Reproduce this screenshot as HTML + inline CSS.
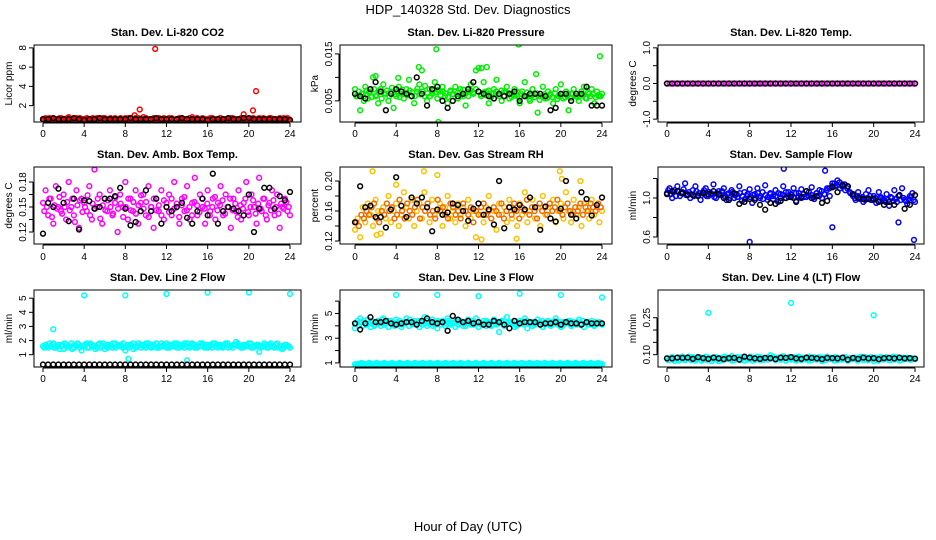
<!DOCTYPE html>
<html><head><meta charset="utf-8">
<style>
html,body{margin:0;padding:0;background:#fff;}
svg{display:block;font-family:"Liberation Sans",sans-serif;}
</style></head>
<body>
<svg id="chart" width="936" height="540" viewBox="0 0 936 540" xmlns="http://www.w3.org/2000/svg">
<text x="468" y="14" text-anchor="middle" font-size="13">HDP_140328  Std. Dev. Diagnostics</text>
<text x="468" y="531" text-anchor="middle" font-size="13">Hour of Day (UTC)</text>
</svg>
<script>
const xTicks=[0,4,8,12,16,20,24];
// Panel 1: CO2
const co2Red=[0.6,0.7,0.5,0.6,0.7,0.6,0.5,0.7,0.6,0.6,0.8,0.5,0.6,0.7,0.6,0.5,0.6,0.7,0.6,0.6,0.5,0.7,0.6,0.6,0.7,0.5,0.6,0.6,0.7,0.6,0.5,0.6,0.7,0.6,0.6,0.5,0.7,0.6,0.6,0.8,0.6,0.5,0.6,0.7,0.6,0.6,0.5,0.7,0.6,0.6,0.7,0.5,0.6,0.6,0.7,0.6,0.5,0.6,0.8,0.6,0.6,0.5,0.7,0.6,0.6,0.7,0.5,0.6,0.6,0.7,0.6,0.5,0.6,0.7,0.6,0.6,0.5,0.7,0.6,0.6,0.7,0.5,0.6,0.6,0.7,0.6,0.5,0.6,0.7,0.6,0.6,0.5,0.7,0.6,0.6,0.7,0.5];
const co2Red2=[0.5,0.6,0.7,0.5,0.6,0.5,0.7,0.6,0.5,0.7,0.6,0.6,0.5,0.6,0.7,0.6,0.5,0.6,0.5,0.7,0.6,0.5,0.6,0.7,0.5,0.6,0.7,0.5,0.6,0.5,0.7,0.6,0.5,0.7,0.6,0.6,0.5,0.7,0.5,0.6,0.7,0.6,0.5,0.6,0.5,0.7,0.6,0.6,0.5,0.7,0.6,0.5,0.6,0.7,0.5,0.6,0.6,0.7,0.5,0.6,0.7,0.6,0.5,0.6,0.5,0.6,0.7,0.5,0.6,0.7,0.5,0.6,0.6,0.5,0.7,0.6,0.5,0.6,0.7,0.5,0.6,0.6,0.7,0.5,0.6,0.5,0.7,0.6,0.5,0.7,0.6,0.6,0.5,0.6,0.7,0.5,0.6];
const co2OutHours=[8.9,9.4,10.9,19.5,20.4,20.7];
const co2OutVals=[1.0,1.6,7.9,1.1,1.5,3.5];
const co2Black=[0.6,0.6,0.7,0.6,0.6,0.6,0.7,0.6,0.5,0.6,0.6,0.7,0.6,0.6,0.6,0.6,0.6,0.7,0.6,0.6,0.6,0.6,0.7,0.6,0.6,0.6,0.6,0.7,0.6,0.6,0.6,0.6,0.5,0.6,0.6,0.6,0.7,0.6,0.6,0.7,0.7,0.6,0.6,0.6,0.6,0.6,0.6,0.6,0.5];
// Panel 2: Pressure
const presGreen=[0.0075,0.0060,0.0030,0.0065,0.0080,0.0055,0.0070,0.0100,0.0060,0.0045,0.0075,0.0085,0.0065,0.0050,0.0070,0.0035,0.0060,0.0080,0.0065,0.0055,0.0075,0.0095,0.0060,0.0045,0.0070,0.0085,0.0115,0.0060,0.0050,0.0075,0.0065,0.0090,0.0055,0.0070,0.0080,0.0060,0.0045,0.0070,0.0065,0.0080,0.0055,0.0075,0.0060,0.0040,0.0070,0.0085,0.0065,0.0115,0.0120,0.0060,0.0090,0.0070,0.0045,0.0065,0.0075,0.0095,0.0060,0.0050,0.0070,0.0080,0.0055,0.0065,0.0075,0.0060,0.0045,0.0070,0.0090,0.0060,0.0050,0.0075,0.0065,0.0025,0.0060,0.0080,0.0055,0.0070,0.0065,0.0045,0.0075,0.0060,0.0085,0.0055,0.0070,0.0030,0.0065,0.0075,0.0060,0.0050,0.0070,0.0080,0.0055,0.0065,0.0075,0.0045,0.0070,0.0060,0.0065];
const presGreen2=[0.0060,0.0070,0.0065,0.0050,0.0072,0.0068,0.0058,0.0075,0.0062,0.0070,0.0055,0.0066,0.0072,0.0060,0.0078,0.0064,0.0070,0.0058,0.0074,0.0066,0.0062,0.0072,0.0068,0.0060,0.0076,0.0064,0.0070,0.0082,0.0066,0.0060,0.0072,0.0068,0.0074,0.0062,0.0070,0.0066,0.0058,0.0072,0.0064,0.0070,0.0068,0.0062,0.0074,0.0066,0.0060,0.0072,0.0068,0.0075,0.0070,0.0064,0.0068,0.0062,0.0072,0.0058,0.0066,0.0070,0.0064,0.0072,0.0060,0.0068,0.0066,0.0058,0.0062,0.0070,0.0056,0.0064,0.0060,0.0068,0.0054,0.0062,0.0058,0.0066,0.0052,0.0060,0.0064,0.0056,0.0062,0.0058,0.0066,0.0054,0.0060,0.0064,0.0058,0.0062,0.0056,0.0066,0.0060,0.0058,0.0064,0.0062,0.0056,0.0068,0.0060,0.0064,0.0058,0.0062,0.0060];
const presOutHours=[2.0,4.2,6.2,7.9,8.1,12.3,12.8,15.9,17.6,23.8];
const presOutVals=[0.0103,0.0099,0.0122,0.0160,0.0005,0.0120,0.0122,0.0170,0.0107,0.0145];
const presBlack=[0.0065,0.0060,0.0055,0.0075,0.0090,0.0070,0.0030,0.0065,0.0075,0.0070,0.0065,0.0060,0.0100,0.0065,0.0040,0.0075,0.0080,0.0050,0.0035,0.0050,0.0060,0.0065,0.0075,0.0090,0.0070,0.0065,0.0060,0.0055,0.0065,0.0060,0.0065,0.0070,0.0050,0.0060,0.0065,0.0065,0.0065,0.0060,0.0030,0.0035,0.0065,0.0065,0.0050,0.0065,0.0065,0.0080,0.0040,0.0040,0.0040];
// Panel 3: Li-820 Temp
const tempMag=[0,0,0,0,0,0,0,0,0,0,0,0,0,0,0,0,0,0,0,0,0,0,0,0,0,0,0,0,0,0,0,0,0,0,0,0,0,0,0,0,0,0,0,0,0,0,0,0,0,0,0,0,0,0,0,0,0,0,0,0,0,0,0,0,0,0,0,0,0,0,0,0,0,0,0,0,0,0,0,0,0,0,0,0,0,0,0,0,0,0,0,0,0,0,0,0,0];
const tempBlack=[0,0,0,0,0,0,0,0,0,0,0,0,0,0,0,0,0,0,0,0,0,0,0,0,0,0,0,0,0,0,0,0,0,0,0,0,0,0,0,0,0,0,0,0,0,0,0,0,0];
// Panel 4: Amb. Box Temp
const ambMag=[0.155,0.170,0.140,0.160,0.130,0.175,0.150,0.145,0.165,0.135,0.180,0.150,0.140,0.170,0.125,0.160,0.155,0.145,0.175,0.135,0.195,0.150,0.165,0.130,0.160,0.145,0.170,0.140,0.155,0.120,0.165,0.150,0.180,0.135,0.160,0.145,0.170,0.130,0.155,0.165,0.140,0.175,0.150,0.125,0.160,0.145,0.170,0.135,0.155,0.165,0.140,0.180,0.150,0.130,0.160,0.145,0.175,0.135,0.155,0.185,0.140,0.165,0.150,0.130,0.170,0.145,0.160,0.135,0.155,0.175,0.140,0.165,0.150,0.125,0.160,0.145,0.170,0.135,0.155,0.180,0.140,0.165,0.150,0.130,0.185,0.145,0.160,0.135,0.155,0.170,0.140,0.165,0.125,0.150,0.160,0.145,0.140];
const ambMag2=[0.145,0.150,0.160,0.138,0.152,0.148,0.162,0.142,0.150,0.156,0.146,0.160,0.132,0.152,0.158,0.144,0.150,0.164,0.140,0.154,0.148,0.160,0.136,0.152,0.146,0.158,0.150,0.142,0.162,0.148,0.154,0.138,0.150,0.160,0.146,0.156,0.142,0.152,0.164,0.148,0.156,0.138,0.150,0.160,0.146,0.152,0.140,0.158,0.150,0.144,0.160,0.148,0.154,0.138,0.152,0.162,0.146,0.150,0.140,0.156,0.152,0.144,0.160,0.148,0.154,0.140,0.150,0.162,0.146,0.152,0.158,0.142,0.150,0.160,0.146,0.154,0.138,0.152,0.148,0.160,0.144,0.150,0.158,0.142,0.154,0.148,0.160,0.140,0.152,0.146,0.158,0.150,0.142,0.154,0.148,0.156,0.150];
const ambBlack=[0.118,0.155,0.150,0.172,0.155,0.133,0.160,0.123,0.158,0.157,0.148,0.150,0.160,0.160,0.163,0.173,0.148,0.128,0.132,0.145,0.170,0.145,0.160,0.130,0.150,0.145,0.150,0.155,0.137,0.130,0.145,0.160,0.140,0.190,0.130,0.145,0.150,0.148,0.145,0.140,0.165,0.120,0.148,0.173,0.173,0.148,0.163,0.158,0.168];
// Panel 5: Gas Stream RH
const rhOrange=[0.135,0.150,0.125,0.165,0.145,0.170,0.155,0.140,0.175,0.160,0.130,0.165,0.150,0.180,0.145,0.160,0.170,0.140,0.155,0.185,0.165,0.150,0.175,0.140,0.160,0.170,0.150,0.185,0.165,0.145,0.175,0.155,0.160,0.170,0.140,0.165,0.180,0.150,0.160,0.145,0.170,0.155,0.165,0.140,0.175,0.150,0.160,0.125,0.170,0.155,0.145,0.165,0.180,0.150,0.160,0.135,0.170,0.155,0.165,0.145,0.175,0.150,0.160,0.140,0.170,0.155,0.185,0.145,0.160,0.175,0.150,0.165,0.140,0.180,0.155,0.165,0.150,0.175,0.145,0.160,0.170,0.150,0.185,0.160,0.145,0.175,0.155,0.165,0.140,0.170,0.160,0.150,0.175,0.155,0.165,0.145,0.160];
const rhOrange2=[0.145,0.140,0.155,0.150,0.160,0.155,0.165,0.170,0.150,0.145,0.160,0.155,0.170,0.160,0.165,0.150,0.155,0.175,0.160,0.150,0.170,0.160,0.155,0.165,0.175,0.150,0.165,0.160,0.170,0.155,0.160,0.150,0.175,0.160,0.165,0.155,0.150,0.170,0.165,0.155,0.160,0.150,0.170,0.160,0.155,0.165,0.145,0.160,0.155,0.165,0.170,0.155,0.160,0.150,0.165,0.160,0.155,0.170,0.150,0.160,0.165,0.155,0.170,0.160,0.150,0.165,0.160,0.175,0.155,0.165,0.160,0.150,0.170,0.160,0.165,0.155,0.170,0.160,0.165,0.175,0.160,0.155,0.165,0.170,0.160,0.155,0.165,0.160,0.170,0.155,0.165,0.160,0.170,0.165,0.160,0.170,0.165];
const rhOutHours=[1.7,2.1,4.0,6.7,8.0,12.3,15.7,19.9,20.1,21.9];
const rhOutVals=[0.213,0.128,0.195,0.213,0.208,0.122,0.123,0.213,0.203,0.200];
const rhBlack=[0.145,0.193,0.165,0.167,0.152,0.152,0.138,0.162,0.205,0.167,0.152,0.178,0.170,0.178,0.165,0.133,0.162,0.155,0.158,0.170,0.168,0.160,0.147,0.163,0.170,0.155,0.162,0.142,0.200,0.137,0.165,0.162,0.168,0.162,0.178,0.165,0.135,0.166,0.150,0.146,0.163,0.200,0.155,0.150,0.185,0.176,0.154,0.168,0.178];
// Panel 6: Sample Flow
const flowBlue=[1.05,1.10,1.00,1.08,1.12,1.02,1.06,1.15,1.04,1.00,1.08,1.12,1.03,0.98,1.06,1.10,1.02,1.05,1.14,1.00,1.07,1.03,1.10,0.98,1.05,1.08,1.00,1.04,1.12,0.97,1.06,1.02,1.09,0.95,1.04,1.10,1.00,1.06,1.13,0.98,1.05,1.02,1.08,0.96,1.04,1.12,1.00,1.06,1.03,1.10,0.97,1.05,1.09,1.01,1.07,1.02,1.11,0.99,1.05,1.08,1.00,1.04,1.10,1.02,1.15,1.12,1.18,1.10,1.14,1.08,1.12,1.05,1.02,0.98,1.06,1.00,0.96,1.04,1.08,0.98,1.02,0.95,1.06,1.00,0.97,1.04,0.92,1.00,1.08,0.96,1.03,1.10,0.98,0.94,1.02,1.05,0.96];
const flowBlue2=[1.08,1.04,1.06,1.02,1.07,1.05,1.09,1.03,1.06,1.04,1.02,1.07,1.05,1.03,1.08,1.02,1.06,1.04,1.01,1.05,1.03,1.07,1.02,1.04,1.00,1.06,1.03,1.01,1.05,1.02,0.99,1.04,1.01,1.03,1.00,1.05,1.02,0.99,1.03,1.01,1.04,0.99,1.02,1.05,1.00,1.03,1.06,1.01,1.04,1.00,1.05,1.02,1.00,1.04,1.01,1.06,1.03,1.01,1.05,1.02,1.07,1.04,1.08,1.10,1.12,1.15,1.13,1.16,1.12,1.14,1.10,1.06,1.04,1.00,1.02,0.99,1.01,0.98,1.00,1.02,0.98,1.00,0.97,1.01,0.99,0.96,0.98,1.01,0.97,0.99,1.02,0.98,1.00,0.97,0.99,1.01,0.98];
const flowOutHours=[8.0,11.3,15.3,16.0,22.4,23.9];
const flowOutVals=[0.55,1.30,1.28,0.70,0.75,0.57];
const flowBlack=[1.04,1.07,1.07,1.05,1.03,1.03,1.02,1.05,1.04,1.07,1.04,1.00,0.98,1.05,0.94,0.96,0.99,0.98,0.93,0.88,0.95,0.94,0.97,1.00,1.01,0.96,1.01,1.07,1.00,1.02,0.95,0.97,1.11,1.06,1.13,1.12,1.04,1.00,0.99,0.99,0.99,0.96,0.93,0.96,0.93,1.03,0.89,0.93,1.03];
// Panel 7: Line 2 Flow
const l2Cyan=[1.6,1.7,1.5,1.6,1.8,1.5,1.7,1.6,1.4,1.7,1.6,1.8,1.5,1.6,1.7,1.3,1.6,1.8,1.5,1.7,1.6,1.5,1.8,1.6,1.4,1.7,1.6,1.5,1.8,1.7,1.6,1.5,1.3,1.7,1.6,1.8,1.5,1.6,1.7,1.6,1.5,1.8,1.6,1.7,1.5,1.6,1.8,1.6,1.5,1.7,1.6,1.8,1.5,1.7,1.6,1.5,1.8,1.6,1.7,1.5,1.6,1.8,1.7,1.6,1.5,1.7,1.8,1.6,1.5,1.7,1.6,1.8,1.5,1.6,1.7,1.9,1.6,1.5,1.7,1.6,1.8,1.5,1.6,1.7,1.2,1.6,1.8,1.5,1.7,1.6,1.5,1.8,1.6,1.4,1.7,1.6,1.5];
const l2Cyan2=[1.5,1.6,1.8,1.7,1.5,1.6,1.4,1.7,1.8,1.5,1.6,1.4,1.7,1.8,1.5,1.6,1.7,1.5,1.8,1.6,1.4,1.7,1.5,1.8,1.6,1.5,1.7,1.8,1.5,1.6,1.7,1.8,1.6,1.5,1.7,1.4,1.6,1.8,1.5,1.7,1.8,1.6,1.5,1.7,1.8,1.5,1.6,1.7,1.8,1.5,1.7,1.6,1.8,1.5,1.7,1.8,1.6,1.5,1.8,1.7,1.5,1.6,1.8,1.5,1.7,1.6,1.5,1.8,1.7,1.6,1.5,1.7,1.8,1.6,1.5,1.7,1.8,1.6,1.5,1.7,1.6,1.8,1.5,1.6,1.7,1.5,1.6,1.7,1.5,1.8,1.6,1.7,1.5,1.6,1.5,1.7,1.6];
const l2OutHours=[1.0,4.0,8.0,8.3,12.0,14.0,16.0,20.0,24.0];
const l2OutVals=[2.8,5.2,5.2,0.7,5.3,0.6,5.4,5.4,5.3];
const l2Black=[0.3,0.3,0.3,0.3,0.3,0.3,0.3,0.3,0.3,0.3,0.3,0.3,0.3,0.3,0.3,0.3,0.3,0.3,0.3,0.3,0.3,0.3,0.3,0.3,0.3,0.3,0.3,0.3,0.3,0.3,0.3,0.3,0.3,0.3,0.3,0.3,0.3,0.3,0.3,0.3,0.3,0.3,0.3,0.3,0.3,0.3,0.3,0.3,0.3];
// Panel 8: Line 3 Flow
const l3CyanHigh=[3.8,4.4,4.6,4.0,4.2,4.5,3.9,4.3,4.1,4.4,4.0,4.6,4.2,3.9,4.4,4.1,4.5,4.2,3.9,4.3,4.6,4.0,4.2,4.4,4.1,3.9,4.3,4.7,4.0,4.2,4.5,4.1,3.8,4.3,4.4,4.0,4.6,4.2,4.3,3.9,4.1,4.4,4.2,4.0,4.5,4.3,4.1,4.6,3.9,4.2,4.4,4.0,4.3,4.1,4.5,4.2,3.5,4.4,4.0,4.7,4.2,4.3,3.9,4.1,4.4,4.2,4.6,3.8,4.3,4.0,4.2,4.5,4.1,3.9,4.3,4.4,4.0,4.2,4.6,4.1,3.9,4.3,4.2,4.4,4.0,4.3,4.1,4.5,4.2,3.9,4.3,4.1,4.4,4.0,4.2,4.3,4.1];
const l3CyanHigh2=[4.2,4.0,4.3,4.4,4.1,4.2,4.4,4.0,4.3,4.2,4.5,4.1,4.3,4.4,4.2,4.0,4.3,4.4,4.1,4.2,4.3,4.5,4.1,4.2,4.4,4.3,4.1,4.2,4.4,4.3,4.0,4.2,4.4,4.1,4.3,4.2,4.4,4.1,4.2,4.3,4.4,4.2,4.0,4.3,4.2,4.1,4.4,4.2,4.3,4.1,4.2,4.4,4.2,4.0,4.3,4.1,4.2,4.3,4.4,4.1,4.3,4.2,4.4,4.0,4.2,4.3,4.1,4.4,4.2,4.3,4.1,4.2,4.3,4.4,4.1,4.2,4.3,4.1,4.4,4.2,4.3,4.0,4.2,4.3,4.4,4.1,4.2,4.3,4.1,4.4,4.2,4.3,4.2,4.1,4.3,4.2,4.2];
const l3CyanLow=[0.9,0.9,0.9,0.9,0.9,0.9,0.9,0.9,0.9,0.9,0.9,0.9,0.9,0.9,0.9,0.9,0.9,0.9,0.9,0.9,0.9,0.9,0.9,0.9,0.9,0.9,0.9,0.9,0.9,0.9,0.9,0.9,0.9,0.9,0.9,0.9,0.9,0.9,0.9,0.9,0.9,0.9,0.9,0.9,0.9,0.9,0.9,0.9,0.9,0.9,0.9,0.9,0.9,0.9,0.9,0.9,0.9,0.9,0.9,0.9,0.9,0.9,0.9,0.9,0.9,0.9,0.9,0.9,0.9,0.9,0.9,0.9,0.9,0.9,0.9,0.9,0.9,0.9,0.9,0.9,0.9,0.9,0.9,0.9,0.9,0.9,0.9,0.9,0.9,0.9,0.9,0.9,0.9,0.9,0.9,0.9,0.9];
const l3CyanLow2=[0.8,0.9,1.0,0.8,0.9,1.0,0.8,0.9,1.0,0.8,0.9,1.0,0.8,0.9,1.0,0.8,0.9,1.0,0.8,0.9,1.0,0.8,0.9,1.0,0.8,0.9,1.0,0.8,0.9,1.0,0.8,0.9,1.0,0.8,0.9,1.0,0.8,0.9,1.0,0.8,0.9,1.0,0.8,0.9,1.0,0.8,0.9,1.0,0.8,0.9,1.0,0.8,0.9,1.0,0.8,0.9,1.0,0.8,0.9,1.0,0.8,0.9,1.0,0.8,0.9,1.0,0.8,0.9,1.0,0.8,0.9,1.0,0.8,0.9,1.0,0.8,0.9,1.0,0.8,0.9,1.0,0.8,0.9,1.0,0.8,0.9,1.0,0.8,0.9,1.0,0.8,0.9,1.0,0.8,0.9,1.0,0.9];
const l3OutHours=[4.0,8.0,12.0,16.0,20.0,24.0];
const l3OutVals=[6.5,6.5,6.4,6.6,6.5,6.3];
const l3Black=[4.2,3.7,4.2,4.7,4.3,4.3,4.4,4.2,4.1,4.2,4.3,4.3,4.1,4.4,4.6,4.3,4.2,4.3,3.6,4.8,4.5,4.3,4.4,4.2,4.3,4.1,4.1,4.4,4.3,4.1,3.8,4.4,4.2,4.3,4.3,4.3,4.1,4.2,4.2,4.3,4.1,4.3,4.2,4.2,4.1,4.3,4.2,4.2,4.2];
// Panel 9: Line 4 (LT) Flow
const l4Cyan=[0.085,0.080,0.090,0.075,0.088,0.082,0.092,0.078,0.086,0.080,0.090,0.076,0.084,0.088,0.080,0.092,0.078,0.085,0.082,0.090,0.074,0.086,0.080,0.088,0.082,0.094,0.078,0.085,0.080,0.090,0.076,0.086,0.082,0.088,0.080,0.092,0.078,0.085,0.082,0.090,0.098,0.086,0.080,0.088,0.082,0.094,0.078,0.085,0.080,0.090,0.076,0.086,0.082,0.088,0.080,0.092,0.078,0.085,0.082,0.090,0.074,0.086,0.080,0.088,0.082,0.090,0.078,0.085,0.080,0.090,0.076,0.086,0.082,0.088,0.080,0.092,0.078,0.085,0.082,0.090,0.074,0.086,0.080,0.088,0.082,0.090,0.078,0.085,0.080,0.090,0.076,0.086,0.082,0.088,0.080,0.085,0.082];
const l4Cyan2=[0.078,0.088,0.082,0.086,0.076,0.090,0.080,0.084,0.092,0.078,0.086,0.082,0.090,0.076,0.086,0.080,0.088,0.074,0.090,0.080,0.086,0.078,0.092,0.082,0.088,0.076,0.086,0.090,0.078,0.084,0.088,0.080,0.092,0.076,0.086,0.082,0.090,0.078,0.086,0.080,0.084,0.092,0.078,0.086,0.080,0.088,0.076,0.090,0.082,0.086,0.080,0.092,0.078,0.084,0.088,0.076,0.086,0.090,0.080,0.084,0.088,0.078,0.092,0.082,0.086,0.076,0.088,0.080,0.084,0.090,0.078,0.086,0.082,0.088,0.076,0.086,0.080,0.090,0.078,0.086,0.082,0.088,0.076,0.090,0.080,0.084,0.088,0.078,0.092,0.082,0.086,0.078,0.088,0.082,0.086,0.080,0.084];
const l4OutHours=[4.0,12.0,20.0];
const l4OutVals=[0.270,0.310,0.260];
const l4Black=[0.085,0.085,0.088,0.087,0.088,0.083,0.090,0.086,0.083,0.088,0.085,0.082,0.086,0.087,0.080,0.092,0.088,0.085,0.083,0.087,0.086,0.082,0.088,0.087,0.090,0.085,0.083,0.088,0.087,0.085,0.082,0.087,0.086,0.085,0.088,0.080,0.087,0.083,0.088,0.085,0.086,0.082,0.086,0.087,0.085,0.088,0.085,0.086,0.084];

const NS="http://www.w3.org/2000/svg";
const svg=document.getElementById('chart');
function mk(tag,attrs,parent){const e=document.createElementNS(NS,tag);for(const k in attrs)e.setAttribute(k,attrs[k]);(parent||svg).appendChild(e);return e;}
const cols=[{l:34,r:301,x0:43,x1:290},{l:340,r:612,x0:355,x1:602},{l:658,r:924,x0:667,x1:915}];
const rows=[{t:45,b:122,title:36,lab:137},{t:167,b:244,title:158,lab:260},{t:290,b:367,title:281,lab:382}];
function idxHours(arr,off){return arr.map((v,i)=>(i+(off||0))*24/(arr.length-1+(off?1:0)));}
function drawPanel(p){
  const c=cols[p.col],r=rows[p.row];
  const g=mk('g',{});
  
  
  const sx=h=>c.x0+(c.x1-c.x0)*h/24;
  const sy=v=>r.b-(v-p.ymin)/(p.ymax-p.ymin)*(r.b-r.t);
  const t=mk('text',{x:(c.l+c.r)/2,y:r.title,'text-anchor':'middle','font-size':11,'font-weight':'bold'},g);
  t.textContent=p.title;
  
  
  const clip='clip'+p.col+p.row;
  const cp=mk('clipPath',{id:clip},g);mk('rect',{x:c.l,y:r.t,width:c.r-c.l,height:r.b-r.t},cp);
  const pg=mk('g',{'clip-path':'url(#'+clip+')'},g);
  p.series.forEach(s=>{
    const hs=s.hours||idxHours(s.vals,s.off);
    s.vals.forEach((v,i)=>{
      const ci=mk('circle',{cx:sx(hs[i]),cy:sy(v),r:2.4,fill:s.fill||'none',stroke:s.color,'stroke-width':1.5},pg);
      
      
    });
  });
  const box=mk('rect',{x:c.l,y:r.t,width:c.r-c.l,height:r.b-r.t,fill:'none',stroke:'#000','stroke-width':1},g);
  
  
  mk('line',{x1:sx(0),x2:sx(24),y1:r.b+1,y2:r.b+1,stroke:'#000'},g);
  xTicks.forEach(h=>{
    mk('line',{x1:sx(h),x2:sx(h),y1:r.b+1,y2:r.b+5,stroke:'#000'},g);
    const tl=mk('text',{x:sx(h),y:r.lab,'text-anchor':'middle','font-size':10},g);
    tl.textContent=h;
    
    
  });
  mk('line',{x1:c.l-1,x2:c.l-1,y1:sy(p.yticks[0]),y2:sy(p.yticks[p.yticks.length-1]),stroke:'#000'},g);
  p.yticks.forEach((v,i)=>{
    const y=sy(v);
    mk('line',{x1:c.l-5,x2:c.l-1,y1:y,y2:y,stroke:'#000'},g);
    if(p.ylabels[i]!==''){
      const yl=mk('text',{x:c.l-8,y:y,'text-anchor':'middle','font-size':10,transform:'rotate(-90 '+(c.l-8)+' '+y+')'},g);
      yl.textContent=p.ylabels[i];
      
      
    }
  });
  const ym=(r.t+r.b)/2,yx=c.l-22;
  const ya=mk('text',{x:yx,y:ym,'text-anchor':'middle','font-size':10,transform:'rotate(-90 '+yx+' '+ym+')'},g);
  ya.textContent=p.ylab;
  
  
}
drawPanel({name:'panel-co2',col:0,row:0,title:'Stan. Dev. Li-820 CO2',ylab:'Licor ppm',ymin:0.3,ymax:8.3,yticks:[2,4,6,8],ylabels:['2','4','6','8'],
  series:[{vals:co2Red,color:'#ff0000'},{vals:co2Red2,color:'#ff0000',off:0.5},{vals:co2OutVals,hours:co2OutHours,color:'#ff0000'},{vals:co2Black,color:'#000'}]});
drawPanel({name:'panel-pressure',col:1,row:0,title:'Stan. Dev. Li-820 Pressure',ylab:'kPa',ymin:0.0005,ymax:0.0169,yticks:[0.005,0.01,0.015],ylabels:['0.005','','0.015'],
  series:[{vals:presGreen,color:'#00ee00'},{vals:presGreen2,color:'#00ee00',off:0.5},{vals:presOutVals,hours:presOutHours,color:'#00ee00'},{vals:presBlack,color:'#000'}]});
drawPanel({name:'panel-li820-temp',col:2,row:0,title:'Stan. Dev. Li-820 Temp.',ylab:'degrees C',ymin:-1.08,ymax:1.08,yticks:[-1,-0.5,0,0.5,1],ylabels:['-1.0','','0.0','','1.0'],
  series:[{vals:tempMag,color:'#ff00ff'},{vals:tempBlack,color:'#000'}]});
drawPanel({name:'panel-amb-box-temp',col:0,row:1,title:'Stan. Dev. Amb. Box Temp.',ylab:'degrees C',ymin:0.1056,ymax:0.198,yticks:[0.12,0.135,0.15,0.165,0.18],ylabels:['0.12','','0.15','','0.18'],
  series:[{vals:ambMag,color:'#ff00ff'},{vals:ambMag2,color:'#ff00ff',off:0.5},{vals:ambBlack,color:'#000'}]});
drawPanel({name:'panel-gas-rh',col:1,row:1,title:'Stan. Dev. Gas Stream RH',ylab:'percent',ymin:0.116,ymax:0.2187,yticks:[0.12,0.14,0.16,0.18,0.2],ylabels:['0.12','','0.16','','0.20'],
  series:[{vals:rhOrange,color:'#ffc000'},{vals:rhOrange2,color:'#ee6a00',off:0.5},{vals:rhOutVals,hours:rhOutHours,color:'#ffc000'},{vals:rhBlack,color:'#000'}]});
drawPanel({name:'panel-sample-flow',col:2,row:1,title:'Stan. Dev. Sample Flow',ylab:'ml/min',ymin:0.528,ymax:1.318,yticks:[0.6,0.8,1.0,1.2],ylabels:['0.6','','1.0',''],
  series:[{vals:flowBlue,color:'#0000ff'},{vals:flowBlue2,color:'#0000ff',off:0.5},{vals:flowOutVals,hours:flowOutHours,color:'#0000ff'},{vals:flowBlack,color:'#000'}]});
drawPanel({name:'panel-line2-flow',col:0,row:2,title:'Stan. Dev. Line 2 Flow',ylab:'ml/min',ymin:0.127,ymax:5.58,yticks:[1,2,3,4,5],ylabels:['1','2','3','4','5'],
  series:[{vals:l2Cyan,color:'#00ffff'},{vals:l2Cyan2,color:'#00ffff',off:0.5},{vals:l2OutVals,hours:l2OutHours,color:'#00ffff'},{vals:l2Black,color:'#000'}]});
drawPanel({name:'panel-line3-flow',col:1,row:2,title:'Stan. Dev. Line 3 Flow',ylab:'ml/min',ymin:0.67,ymax:6.9,yticks:[1,2,3,4,5,6],ylabels:['1','','3','','5',''],
  series:[{vals:l3CyanLow,color:'#00ffff'},{vals:l3CyanLow2,color:'#00ffff',off:0.5},{vals:l3CyanHigh,color:'#00ffff'},{vals:l3CyanHigh2,color:'#00ffff',off:0.5},{vals:l3OutVals,hours:l3OutHours,color:'#00ffff'},{vals:l3Black,color:'#000'}]});
drawPanel({name:'panel-line4-flow',col:2,row:2,title:'Stan. Dev. Line 4 (LT) Flow',ylab:'ml/min',ymin:0.05,ymax:0.3625,yticks:[0.1,0.15,0.2,0.25],ylabels:['0.10','','','0.25'],
  series:[{vals:l4Cyan,color:'#00ffff'},{vals:l4Cyan2,color:'#00ffff',off:0.5},{vals:l4OutVals,hours:l4OutHours,color:'#00ffff'},{vals:l4Black,color:'#000'}]});
</script>
</body></html>
